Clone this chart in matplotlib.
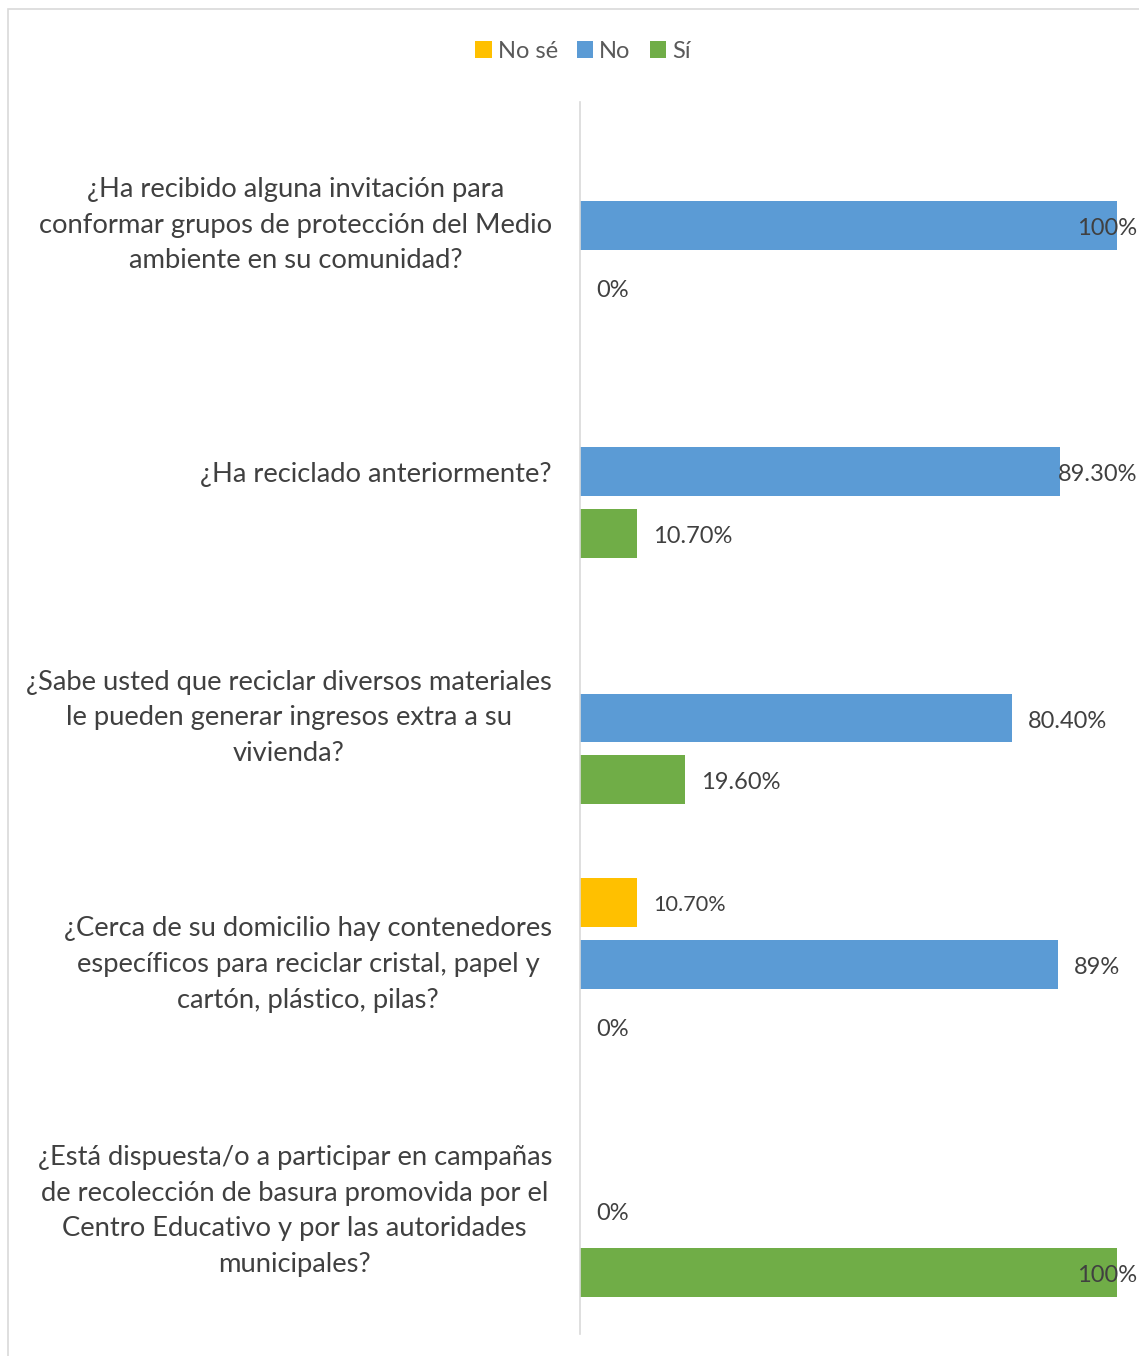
import numpy as np
import matplotlib.pyplot as plt
from matplotlib.patches import Rectangle

plt.rcParams['font.family'] = ['Lato', 'DejaVu Sans']

# questions, top to bottom
preguntas = [
    "¿Ha recibido alguna invitación para\nconformar grupos de protección del Medio\nambiente en su comunidad?",
    "¿Ha reciclado anteriormente?",
    "¿Sabe usted que reciclar diversos materiales\nle pueden generar ingresos extra a su\nvivienda?",
    "¿Cerca de su domicilio hay contenedores\nespecíficos para reciclar cristal, papel y\ncartón, plástico, pilas?",
    "¿Está dispuesta/o a participar en campañas\nde recolección de basura promovida por el\nCentro Educativo y por las autoridades\nmunicipales?",
]
series = ["No sé", "No", "Sí"]
colores = ["#FFC000", "#5B9BD5", "#70AD47"]
# values in percent, None = no value shown
no_se = [None, None, None, 10.7, None]
no = [100, 89.3, 80.4, 89, 0]
si = [0, 10.7, 19.6, 0, 100]
# labels as printed on the chart
et_no_se = [None, None, None, "10.70%", None]
et_no = ["100%", "89.30%", "80.40%", "89%", "0%"]
et_si = ["0%", "10.70%", "19.60%", "0%", "100%"]

valores = [no_se, no, si]
etiquetas = [et_no_se, et_no, et_si]

W, H = 1139, 1356
fig = plt.figure(figsize=(W / 100, H / 100), dpi=100)
ax = fig.add_axes([580 / W, 1 - 1334 / H, (1117 - 580) / W, (1334 - 102) / H])

y = np.arange(len(preguntas))
paso = 0.2513
alto = 0.1986
textos = []
for k, (vals, labs, col, nom) in enumerate(zip(valores, etiquetas, colores, series)):
    off = (k - 1) * paso
    yy = [y[i] + off for i in range(len(vals)) if vals[i] is not None]
    vv = [v for v in vals if v is not None]
    ax.barh(yy, vv, height=alto, color=col, label=nom)
    for i, (v, s) in enumerate(zip(vals, labs)):
        if v is None:
            continue
        fs = 15.6 if (k == 0) else 17
        t = ax.annotate(s, xy=(v, y[i] + off), xytext=(16 * 0.72, -3 * 0.72),
                        textcoords='offset points', va='center', ha='left',
                        fontsize=fs, color='#404040', annotation_clip=False)
        textos.append(t)

ax.set_xlim(0, 100)
ax.set_ylim(len(preguntas) - 0.5, -0.5)
ax.set_yticks(y)
ax.set_yticklabels(preguntas, fontsize=19.7, color='#404040', linespacing=1.53)
for lbl in ax.get_yticklabels():
    lbl.set_multialignment('center')
    if '\n' in lbl.get_text():
        lbl.set_verticalalignment('center')
ax.tick_params(axis='y', length=0, pad=28 * 0.72)
ax.set_xticks([])
for s in ['top', 'right', 'bottom']:
    ax.spines[s].set_visible(False)
ax.spines['left'].set_color('#D9D9D9')
ax.spines['left'].set_linewidth(1.2)

h, l = ax.get_legend_handles_labels()
fig.legend(h, l, loc='center', bbox_to_anchor=(583 / W, 1 - 51 / H), ncol=3,
           frameon=False, fontsize=17, handlelength=0.7, handleheight=0.7,
           handletextpad=0.25, columnspacing=0.8, labelcolor='#595959')

fig.patches.append(Rectangle((8 / W, -0.01), 1.1, 1 - 9 / H + 0.01,
                             transform=fig.transFigure, fill=False,
                             ec='#D9D9D9', lw=1.2))

# keep labels inside the chart area, like the original
fig.canvas.draw()
r = fig.canvas.get_renderer()
for t in textos:
    bb = t.get_window_extent(r)
    if bb.x1 > W - 2:
        t.xyann = (16 * 0.72 - (bb.x1 - (W - 2)) * 0.72, -3 * 0.72)

fig.savefig("out.png", dpi=100, facecolor='white')
